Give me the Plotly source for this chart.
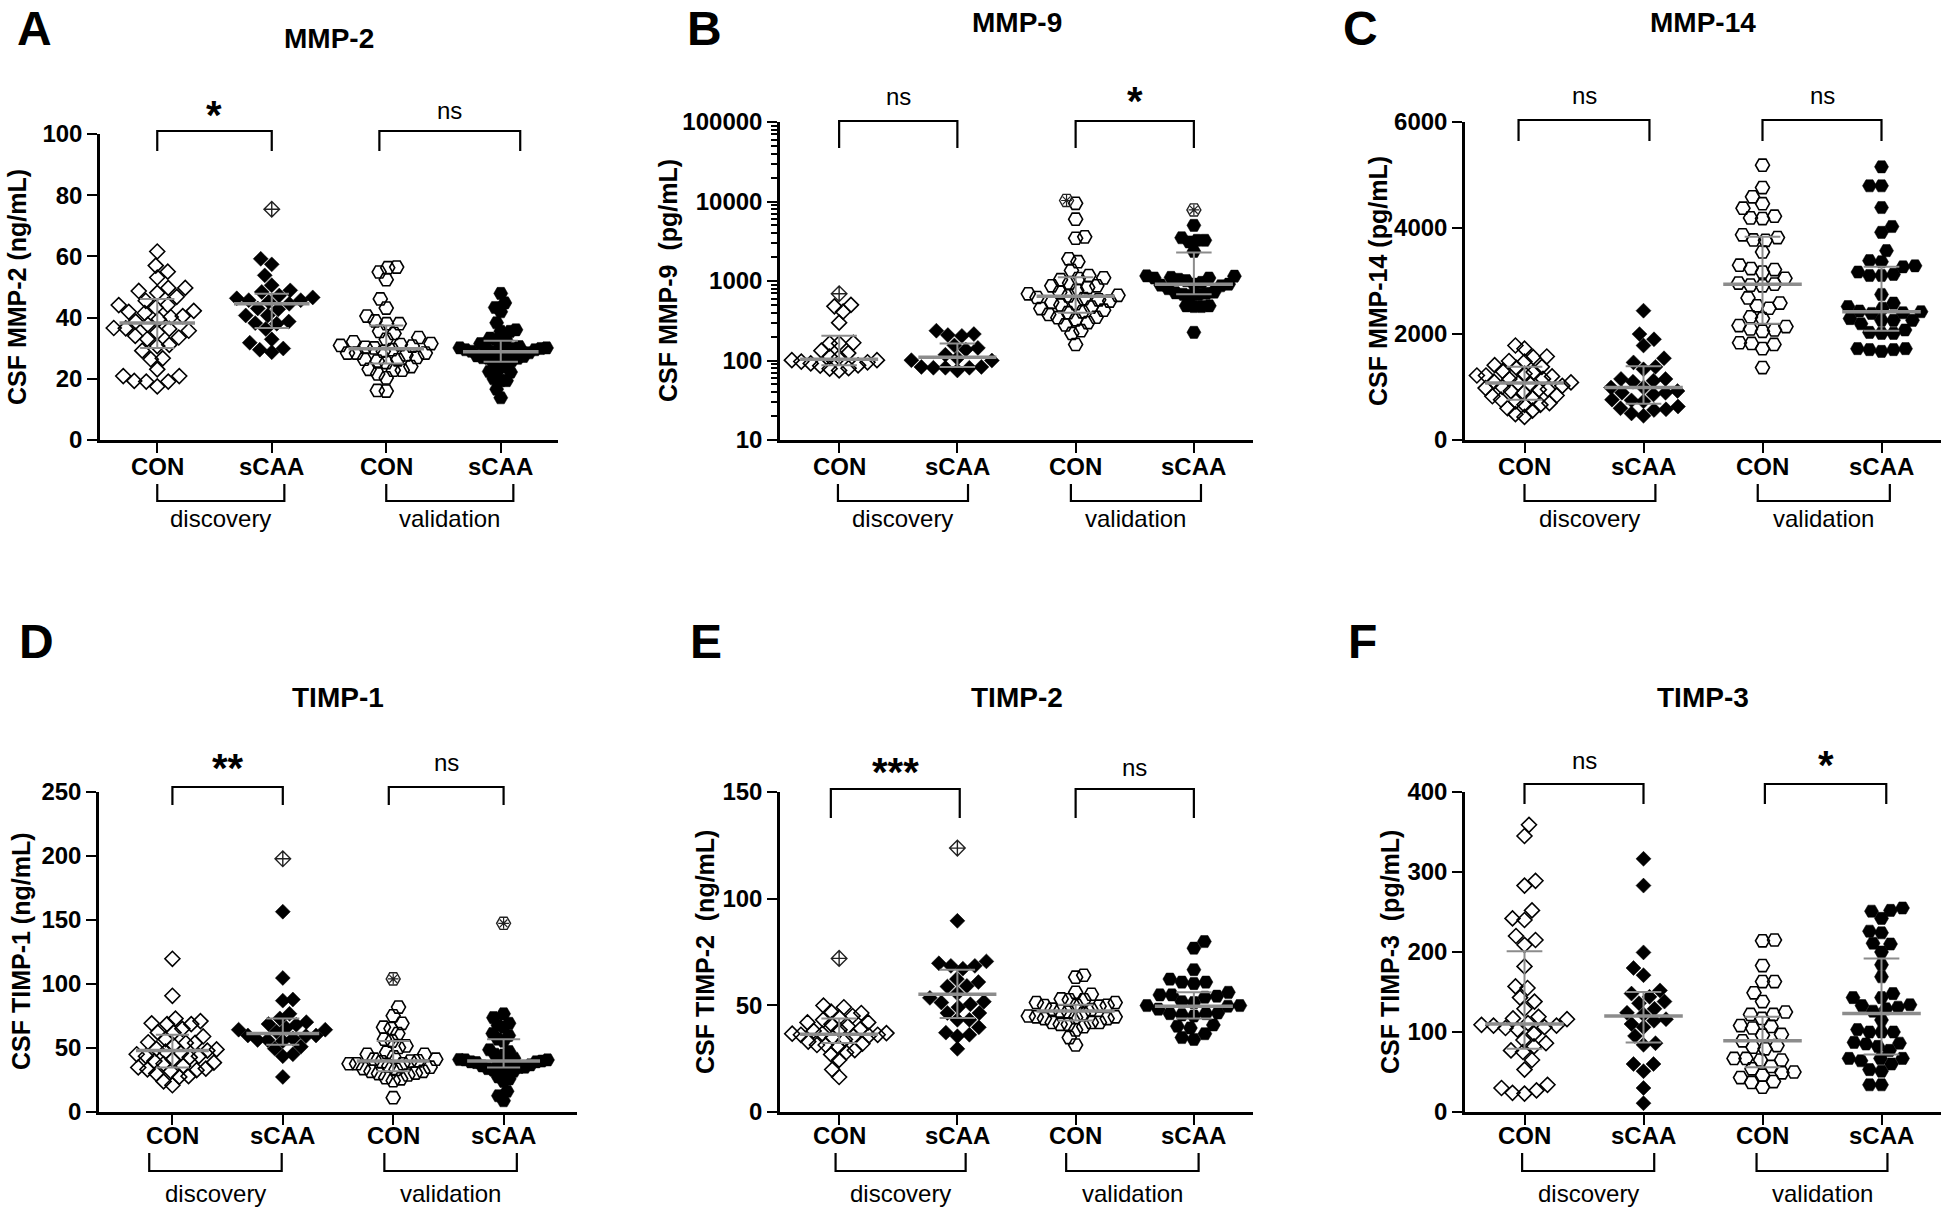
import numpy as np
import plotly.graph_objects as go

W, H = 1944, 1207
FONT = "Liberation Sans, Arial, Helvetica, sans-serif"

categories = ["CON", "sCAA", "CON", "sCAA"]
cohorts = ["discovery", "validation"]

# ---------------- A: MMP-2 (ng/mL) ----------------
mmp2_dis_con = [61.6, 57.0, 55.0, 53.1, 49.7, 49.7, 48.7, 48.1, 46.8, 45.5, 44.1, 44.1, 43.3, 42.2, 41.9, 41.5,
                40.5, 40.2, 39.5, 38.7, 37.7, 36.6, 36.5, 36.3, 35.7, 35.2, 34.0, 33.5, 33.0, 31.1, 30.7, 29.2,
                26.7, 26.4, 23.1, 20.9, 20.9, 19.3, 19.1, 19.1, 17.5]
mmp2_dis_scaa = [59.2, 57.4, 53.8, 50.6, 48.9, 48.4, 47.2, 46.6, 46.3, 45.7, 45.7, 45.2, 44.5, 43.0, 42.7, 40.7,
                 40.7, 38.7, 38.2, 38.0, 36.3, 32.9, 31.8, 29.9, 29.5, 28.7]
mmp2_dis_scaa_out = [75.4]
mmp2_val_con = [56.5, 56.3, 54.9, 52.4, 46.1, 43.1, 40.5, 38.9, 38.0, 38.0, 35.5, 34.8, 33.5, 32.9, 32.1, 31.5,
                31.2, 30.9, 30.7, 30.3, 30.1, 29.5, 29.0, 28.4, 28.4, 28.4, 27.8, 27.0, 26.4, 26.2, 25.8, 25.3,
                24.0, 23.1, 22.8, 22.8, 21.6, 20.3, 16.2, 16.0]
mmp2_val_scaa = [47.9, 44.8, 43.3, 41.9, 38.3, 36.0, 35.5, 35.5, 33.3, 32.9, 32.9, 31.5, 31.0, 30.5, 30.3, 30.1,
                 30.1, 29.9, 29.9, 29.5, 29.5, 29.0, 28.8, 28.5, 28.1, 27.5, 27.3, 26.9, 26.9, 26.7, 26.7, 26.0,
                 25.0, 24.0, 23.1, 22.4, 22.2, 20.0, 19.4, 19.4, 16.6, 13.8]
mmp2_median = [38.2, 44.5, 29.8, 28.8]
mmp2_q1 = [30.1, 36.6, 25.0, 25.6]
mmp2_q3 = [46.1, 47.8, 37.4, 32.4]

# ---------------- B: MMP-9 (pg/mL) ----------------
mmp9_dis_con = [501, 480, 411, 299, 167, 164, 164, 133, 124, 112, 110, 101, 101, 97, 95, 92, 87, 86, 80, 79, 75]
mmp9_dis_con_out = [690]
mmp9_dis_scaa = [237, 215, 209, 204, 155, 144, 137, 118, 107, 101, 100, 83, 83, 81, 81, 81, 75]
mmp9_val_con = [9500, 5990, 3590, 3450, 1900, 1750, 1360, 1170, 1095, 1075, 1040, 943, 870, 870, 828, 760, 720,
                690, 660, 650, 620, 600, 580, 560, 540, 520, 500, 470, 450, 430, 410, 400, 380, 350, 346, 325,
                300, 280, 237, 219, 159]
mmp9_val_con_out = [10300]
mmp9_val_scaa = [5010, 3500, 3250, 3250, 3100, 2360, 1160, 1150, 1110, 1090, 1090, 1050, 1010, 960, 912, 912,
                 887, 870, 800, 725, 710, 700, 680, 680, 660, 487, 487, 477, 477, 226]
mmp9_val_scaa_out = [7830]
mmp9_median = [104, 110, 644, 912]
mmp9_q1 = [87, 83, 400, 680]
mmp9_q3 = [205, 164, 1117, 2290]

# ---------------- C: MMP-14 (pg/mL) ----------------
mmp14_dis_con = [1783, 1724, 1575, 1562, 1490, 1477, 1412, 1380, 1360, 1300, 1282, 1250, 1217, 1217, 1200, 1152,
                 1150, 1100, 1087, 1070, 1050, 1022, 1000, 980, 957, 950, 924, 892, 840, 826, 800, 760, 729, 696,
                 664, 664, 599, 553, 488, 436]
mmp14_dis_scaa = [2440, 1998, 1900, 1783, 1542, 1464, 1380, 1334, 1152, 1152, 1119, 1100, 989, 989, 924, 892, 892,
                  859, 761, 748, 729, 631, 599, 579, 566, 501, 456]
mmp14_val_con = [5186, 4763, 4588, 4458, 4373, 4223, 4191, 4178, 3872, 3820, 3774, 3768, 3547, 3299, 3234, 3215,
                 3169, 3052, 2961, 2941, 2922, 2909, 2681, 2583, 2531, 2486, 2323, 2291, 2160, 2141, 2095, 2076,
                 2050, 1835, 1822, 1803, 1724, 1367]
mmp14_val_scaa = [5154, 4796, 4796, 4386, 4028, 3918, 3573, 3384, 3364, 3286, 3267, 3169, 3124, 3104, 3104, 2746,
                  2583, 2518, 2486, 2434, 2421, 2401, 2388, 2291, 2258, 2258, 2258, 2193, 2076, 2030, 2011, 2011,
                  1724, 1724, 1705, 1705, 1672]
mmp14_median = [1074, 989, 2941, 2421]
mmp14_q1 = [761, 683, 2193, 2063]
mmp14_q3 = [1380, 1393, 3833, 3267]

# ---------------- D: TIMP-1 (ng/mL) ----------------
timp1_dis_con = [119.7, 90.8, 73.0, 71.0, 69.3, 68.7, 68.7, 65.0, 62.2, 62.0, 59.0, 57.0, 54.5, 54.0, 54.0, 52.0,
                 49.5, 48.9, 48.0, 47.2, 46.0, 45.1, 43.6, 43.6, 42.7, 41.0, 39.8, 38.6, 37.7, 36.0, 34.8, 33.9,
                 33.3, 32.7, 31.8, 30.0, 28.0, 27.4, 23.9, 20.9]
timp1_dis_scaa = [156.5, 104.7, 87.9, 87.0, 76.7, 73.1, 70.2, 68.7, 68.1, 65.7, 64.3, 64.3, 62.8, 59.8, 59.8, 59.3,
                  57.5, 56.3, 56.3, 55.4, 51.0, 49.5, 45.1, 43.6, 27.4]
timp1_dis_scaa_out = [197.8]
timp1_val_con = [82.0, 75.2, 69.3, 66.3, 65.2, 61.3, 56.9, 55.4, 51.6, 50.4, 46.6, 45.1, 45.1, 43.0, 41.3, 41.3,
                 40.0, 39.8, 39.2, 37.7, 37.7, 37.7, 36.0, 35.0, 33.9, 33.3, 31.8, 31.8, 30.4, 30.0, 28.9, 26.8,
                 25.9, 24.5, 11.2]
timp1_val_con_out = [104.0]
timp1_val_scaa = [76.7, 73.7, 69.3, 67.8, 66.3, 61.3, 59.8, 56.9, 55.4, 48.6, 47.2, 45.1, 44.5, 42.0, 41.0, 40.7,
                  40.7, 39.8, 39.2, 39.2, 38.6, 38.0, 37.7, 36.8, 36.0, 35.0, 34.8, 33.9, 33.3, 32.7, 31.8, 27.4,
                  25.9, 23.9, 16.2, 12.7, 8.8]
timp1_val_scaa_out = [147.4]
timp1_median = [48.1, 61.3, 39.8, 39.8]
timp1_q1 = [34.8, 52.5, 31.8, 34.8]
timp1_q3 = [60.4, 73.1, 55.4, 56.9]

# ---------------- E: TIMP-2 (ng/mL) ----------------
timp2_dis_con = [49.9, 49.1, 47.0, 46.4, 45.0, 44.3, 43.2, 42.0, 42.0, 41.1, 40.2, 39.0, 38.5, 38.0, 37.0, 36.7,
                 36.7, 36.2, 36.2, 35.8, 35.5, 34.9, 34.0, 33.0, 32.0, 31.4, 31.4, 30.5, 29.0, 27.9, 27.0, 24.4,
                 19.9, 16.4]
timp2_dis_con_out = [72.0]
timp2_dis_scaa = [89.6, 70.6, 69.7, 68.5, 68.5, 67.2, 62.3, 60.9, 59.1, 58.8, 55.6, 53.5, 51.7, 51.3, 50.5, 49.1,
                  46.4, 46.4, 43.2, 43.2, 39.7, 37.2, 36.2, 35.5, 29.6]
timp2_dis_scaa_out = [123.7]
timp2_val_con = [64.1, 63.2, 56.1, 55.2, 53.0, 52.6, 52.6, 51.3, 51.3, 50.0, 49.9, 49.9, 49.6, 48.2, 48.0, 47.3,
                 47.0, 46.0, 45.0, 44.6, 44.6, 44.3, 43.8, 43.8, 42.0, 42.0, 42.0, 41.1, 41.1, 40.0, 38.5, 34.9,
                 31.4]
timp2_val_scaa = [79.9, 76.8, 66.7, 62.3, 60.9, 60.9, 60.2, 56.1, 54.9, 54.9, 54.3, 53.8, 51.7, 51.3, 49.9, 49.9,
                  49.6, 48.2, 46.4, 46.1, 46.1, 45.5, 45.0, 40.8, 40.2, 39.4, 36.7, 34.9, 34.0]
timp2_median = [36.4, 55.2, 47.3, 49.6]
timp2_q1 = [32.3, 44.1, 42.9, 43.8]
timp2_q3 = [43.8, 66.7, 50.3, 56.1]

# ---------------- F: TIMP-3 (pg/mL) ----------------
timp3_dis_con = [359, 345, 289, 283, 252, 242, 240, 220, 215, 209, 182, 157, 155, 143, 138, 129, 119, 117, 116, 111,
                 109, 108, 108, 106, 105, 103, 98, 90, 86, 82, 77, 75, 65, 53, 34, 30, 27, 24, 23]
timp3_dis_scaa = [316.5, 283, 199.5, 180, 171, 152, 148, 144, 138, 136, 129, 124, 122, 116, 114, 110, 106, 95, 86,
                  84, 60, 60, 51, 30, 11]
timp3_val_con = [215, 214, 183, 163, 163, 149, 138, 125, 122, 122, 117, 108, 107, 105, 97, 96, 89, 83, 81, 79, 67,
                 67, 65, 65, 57, 54, 50, 49, 46, 43, 38, 37, 31]
timp3_val_scaa = [255, 252, 251, 242, 226, 224, 211, 210, 200, 184, 169, 148, 143, 143, 134, 133, 131, 129, 126,
                  115, 103, 100, 100, 100, 87, 86, 85, 82, 77, 67, 67, 67, 64, 60, 53, 51, 34, 34]
timp3_median = [110, 120, 89, 123]
timp3_q1 = [79, 87, 56, 72]
timp3_q3 = [201, 150, 119, 192]

# ---------------- panel specifications (layout in px) ----------------
ROW1 = dict(cat_y=466, grp_leg=484, grp_bar=501, grp_text=519, letter_top=True, letter_y=0)
ROW2 = dict(cat_y=1135, grp_leg=1153, grp_bar=1171, grp_text=1193, letter_top=False, letter_y=641)

panels = [
    dict(letter="A", title="MMP-2", ytitle="CSF MMP-2 (ng/mL)",
         groups=[mmp2_dis_con, mmp2_dis_scaa, mmp2_val_con, mmp2_val_scaa],
         outs=[[], mmp2_dis_scaa_out, [], []],
         med=mmp2_median, q1=mmp2_q1, q3=mmp2_q3, yr=(0, 100), dtick=20, log=False,
         sig=["*", "ns"],
         x0=100, x1=558, ytop=134, ybot=440, xr=(-0.5, 3.5),
         letter_x=34, title_y=38, ytitle_x=17,
         sig_spans=[(0, 1), (1.94, 3.17)], sig_top=131, sig_leg=151, sig_text=112,
         grp_spans=[(0, 1.11), (2, 3.11)], row=ROW1),
    dict(letter="B", title="MMP-9", ytitle="CSF MMP-9 \u00a0(pg/mL)",
         groups=[mmp9_dis_con, mmp9_dis_scaa, mmp9_val_con, mmp9_val_scaa],
         outs=[mmp9_dis_con_out, [], mmp9_val_con_out, mmp9_val_scaa_out],
         med=mmp9_median, q1=mmp9_q1, q3=mmp9_q3, yr=(1, 5), dtick=1, log=True,
         sig=["ns", "*"],
         x0=780, x1=1253, ytop=122, ybot=440, xr=(-0.5, 3.5),
         letter_x=704, title_y=22, ytitle_x=668,
         sig_spans=[(0, 1), (2, 3)], sig_top=121, sig_leg=148, sig_text=98,
         grp_spans=[(-0.01, 1.09), (1.96, 3.06)], row=ROW1),
    dict(letter="C", title="MMP-14", ytitle="CSF MMP-14 (pg/mL)",
         groups=[mmp14_dis_con, mmp14_dis_scaa, mmp14_val_con, mmp14_val_scaa],
         outs=[[], [], [], []],
         med=mmp14_median, q1=mmp14_q1, q3=mmp14_q3, yr=(0, 6000), dtick=2000, log=False,
         sig=["ns", "ns"],
         x0=1465, x1=1941, ytop=122, ybot=440, xr=(-0.5, 3.5),
         letter_x=1360, title_y=22, ytitle_x=1378,
         sig_spans=[(-0.05, 1.05), (2, 3)], sig_top=120, sig_leg=141, sig_text=97,
         grp_spans=[(0, 1.1), (1.96, 3.07)], row=ROW1),
    dict(letter="D", title="TIMP-1", ytitle="CSF TIMP-1 (ng/mL)",
         groups=[timp1_dis_con, timp1_dis_scaa, timp1_val_con, timp1_val_scaa],
         outs=[[], timp1_dis_scaa_out, timp1_val_con_out, timp1_val_scaa_out],
         med=timp1_median, q1=timp1_q1, q3=timp1_q3, yr=(0, 250), dtick=50, log=False,
         sig=["**", "ns"],
         x0=99, x1=577, ytop=792, ybot=1112, xr=(-0.665, 3.665),
         letter_x=36, title_y=697, ytitle_x=21,
         sig_spans=[(0, 1), (1.96, 3)], sig_top=787, sig_leg=805, sig_text=765,
         grp_spans=[(-0.21, 0.99), (1.92, 3.12)], row=ROW2),
    dict(letter="E", title="TIMP-2", ytitle="CSF TIMP-2 \u00a0(ng/mL)",
         groups=[timp2_dis_con, timp2_dis_scaa, timp2_val_con, timp2_val_scaa],
         outs=[timp2_dis_con_out, timp2_dis_scaa_out, [], []],
         med=timp2_median, q1=timp2_q1, q3=timp2_q3, yr=(0, 150), dtick=50, log=False,
         sig=["***", "ns"],
         x0=780, x1=1253, ytop=792, ybot=1112, xr=(-0.5, 3.5),
         letter_x=706, title_y=697, ytitle_x=705,
         sig_spans=[(-0.07, 1.02), (2, 3)], sig_top=789, sig_leg=818, sig_text=769,
         grp_spans=[(-0.03, 1.07), (1.92, 3.04)], row=ROW2),
    dict(letter="F", title="TIMP-3", ytitle="CSF TIMP-3 \u00a0(pg/mL)",
         groups=[timp3_dis_con, timp3_dis_scaa, timp3_val_con, timp3_val_scaa],
         outs=[[], [], [], []],
         med=timp3_median, q1=timp3_q1, q3=timp3_q3, yr=(0, 400), dtick=100, log=False,
         sig=["ns", "*"],
         x0=1465, x1=1941, ytop=792, ybot=1112, xr=(-0.5, 3.5),
         letter_x=1362, title_y=697, ytitle_x=1390,
         sig_spans=[(0, 1), (2.02, 3.04)], sig_top=784, sig_leg=804, sig_text=762,
         grp_spans=[(-0.02, 1.09), (1.95, 3.05)], row=ROW2),
]

MARK = [
    dict(symbol="diamond-open", size=11.5, color="black", line=dict(width=1.6, color="black")),
    dict(symbol="diamond", size=11.5, color="black", line=dict(width=0.5, color="black")),
    dict(symbol="hexagon2-open", size=14, color="black", line=dict(width=1.6, color="black")),
    dict(symbol="hexagon2", size=14, color="black", line=dict(width=0.5, color="black")),
]
GRAY = "#8c8c8c"


def to_px(vals, p):
    v = np.asarray(vals, dtype=float)
    y0, y1 = p["yr"]
    if p["log"]:
        v = np.log10(v)
    return (v - y0) / (y1 - y0) * (p["ybot"] - p["ytop"])


def swarm(ypx, d=12.0, step=0.5):
    n = len(ypx)
    order = np.argsort(ypx)
    px, py = [], []
    offs = np.zeros(n)
    for rank, i in enumerate(order):
        y = ypx[i]
        k = 0
        found = None
        while found is None:
            if k == 0:
                cands = [0.0]
            else:
                cands = [k * step, -k * step] if rank % 2 == 0 else [-k * step, k * step]
            for x in cands:
                ok = True
                for a, b in zip(px, py):
                    if (x - a) ** 2 + (y - b) ** 2 < d * d:
                        ok = False
                        break
                if ok:
                    found = x
                    break
            k += 1
        offs[i] = found
        px.append(found)
        py.append(y)
    return offs


def xpaper(p, x):
    r0, r1 = p["xr"]
    return (p["x0"] + (x - r0) / (r1 - r0) * (p["x1"] - p["x0"])) / W


def ypaper(ypx):
    return 1 - ypx / H


fig = go.Figure()
shapes, annotations = [], []
layout_axes = {}

for idx, p in enumerate(panels, start=1):
    xname = "x" if idx == 1 else f"x{idx}"
    yname = "y" if idx == 1 else f"y{idx}"
    cat_px = (p["x1"] - p["x0"]) / (p["xr"][1] - p["xr"][0])
    row = p["row"]

    for g in range(4):
        vals = list(p["groups"][g])
        outs = list(p["outs"][g])
        allv = vals + outs
        ypx = to_px(allv, p)
        offs = swarm(ypx, d=12.0)
        maxw = 0.40 * cat_px
        m = np.abs(offs).max() if len(offs) else 0
        if m > maxw:
            offs = offs * (maxw / m)
        xs = g + offs / cat_px
        nreg = len(vals)
        fig.add_trace(go.Scatter(x=xs[:nreg], y=vals, mode="markers", marker=MARK[g],
                                 xaxis=xname, yaxis=yname, showlegend=False, hoverinfo="y"))
        if outs:
            if g < 2:
                fig.add_trace(go.Scatter(x=xs[nreg:], y=outs, mode="markers",
                                         marker=dict(symbol="diamond-cross-open", size=12, color="#222",
                                                     line=dict(width=1.4, color="#222")),
                                         xaxis=xname, yaxis=yname, showlegend=False, hoverinfo="y"))
            else:
                fig.add_trace(go.Scatter(x=xs[nreg:], y=outs, mode="markers",
                                         marker=dict(symbol="hexagon2-open", size=14, color="#222",
                                                     line=dict(width=1.4, color="#222")),
                                         xaxis=xname, yaxis=yname, showlegend=False, hoverinfo="y"))
                fig.add_trace(go.Scatter(x=xs[nreg:], y=outs, mode="markers",
                                         marker=dict(symbol="asterisk-open", size=9, color="#222",
                                                     line=dict(width=1.2, color="#222")),
                                         xaxis=xname, yaxis=yname, showlegend=False, hoverinfo="skip"))

    # median lines
    mx, my = [], []
    for g in range(4):
        mx += [g - 0.33, g + 0.33, None]
        my += [p["med"][g], p["med"][g], None]
    fig.add_trace(go.Scatter(x=mx, y=my, mode="lines", line=dict(color=GRAY, width=3.5),
                             xaxis=xname, yaxis=yname, showlegend=False, hoverinfo="skip"))
    # IQR bars
    ex, ey = [], []
    for g in range(4):
        lo, hi = p["q1"][g], p["q3"][g]
        ex += [g, g, None, g - 0.15, g + 0.15, None, g - 0.15, g + 0.15, None]
        ey += [lo, hi, None, lo, lo, None, hi, hi, None]
    fig.add_trace(go.Scatter(x=ex, y=ey, mode="lines", line=dict(color=GRAY, width=2),
                             xaxis=xname, yaxis=yname, showlegend=False, hoverinfo="skip"))

    tickfont = dict(family=FONT, size=24, color="black", weight="bold")
    xa = dict(domain=[p["x0"] / W, p["x1"] / W], range=list(p["xr"]), tickmode="array",
              tickvals=[0, 1, 2, 3], ticktext=categories, showticklabels=False,
              ticks="outside", ticklen=10, tickwidth=2,
              tickcolor="black", showline=True, linewidth=2.5, linecolor="black", showgrid=False,
              zeroline=False, anchor=yname, fixedrange=True, automargin=False)
    ya = dict(domain=[1 - p["ybot"] / H, 1 - p["ytop"] / H], range=list(p["yr"]), ticks="outside",
              ticklen=10, tickwidth=2, tickcolor="black", showline=True, linewidth=2.5, linecolor="black",
              showgrid=False, zeroline=False, tickfont=tickfont, anchor=xname, fixedrange=True,
              automargin=False)
    if p["log"]:
        ya.update(type="log", dtick=1, tickformat="d",
                  minor=dict(ticks="outside", ticklen=6, tickwidth=1.5, tickcolor="black", dtick="D1",
                             showgrid=False))
    else:
        ya.update(dtick=p["dtick"], tick0=0)
    layout_axes["xaxis" if idx == 1 else f"xaxis{idx}"] = xa
    layout_axes["yaxis" if idx == 1 else f"yaxis{idx}"] = ya

    # category labels under the x axis
    for g, lab in enumerate(categories):
        annotations.append(dict(x=xpaper(p, g), y=ypaper(row["cat_y"]), xref="paper", yref="paper",
                                text=lab, showarrow=False, xanchor="center", yanchor="middle",
                                font=dict(family=FONT, size=24, color="black", weight="bold")))

    # significance brackets
    for (a, b), txt in zip(p["sig_spans"], p["sig"]):
        xa_p, xb_p = xpaper(p, a), xpaper(p, b)
        yt, yl = ypaper(p["sig_top"]), ypaper(p["sig_leg"])
        shapes.append(dict(type="path", xref="paper", yref="paper",
                           path=f"M{xa_p},{yl} L{xa_p},{yt} L{xb_p},{yt} L{xb_p},{yl}",
                           line=dict(color="black", width=2.2)))
        star = txt.startswith("*")
        annotations.append(dict(x=(xa_p + xb_p) / 2, y=ypaper(p["sig_text"] + (3 if star else -2)),
                                xref="paper", yref="paper", text=txt, showarrow=False,
                                xanchor="center", yanchor="middle",
                                font=dict(family=FONT, size=40 if star else 24, color="black",
                                          weight="bold" if star else "normal")))
    # cohort brackets
    for (a, b), txt in zip(p["grp_spans"], cohorts):
        xa_p, xb_p = xpaper(p, a), xpaper(p, b)
        yt, yl = ypaper(row["grp_leg"]), ypaper(row["grp_bar"])
        shapes.append(dict(type="path", xref="paper", yref="paper",
                           path=f"M{xa_p},{yt} L{xa_p},{yl} L{xb_p},{yl} L{xb_p},{yt}",
                           line=dict(color="black", width=2.2)))
        annotations.append(dict(x=(xa_p + xb_p) / 2, y=ypaper(row["grp_text"]), xref="paper", yref="paper",
                                text=txt, showarrow=False, xanchor="center", yanchor="middle",
                                font=dict(family=FONT, size=24, color="black")))
    # panel letter, title, y-title
    if row["letter_top"]:
        annotations.append(dict(x=p["letter_x"] / W, y=1.0, xref="paper", yref="paper",
                                text=p["letter"], showarrow=False, xanchor="center", yanchor="top",
                                font=dict(family=FONT, size=48, color="black", weight="bold")))
    else:
        annotations.append(dict(x=p["letter_x"] / W, y=ypaper(row["letter_y"]), xref="paper", yref="paper",
                                text=p["letter"], showarrow=False, xanchor="center", yanchor="middle",
                                font=dict(family=FONT, size=48, color="black", weight="bold")))
    annotations.append(dict(x=(p["x0"] + p["x1"]) / 2 / W, y=ypaper(p["title_y"]), xref="paper",
                            yref="paper", text=p["title"], showarrow=False, xanchor="center",
                            yanchor="middle", font=dict(family=FONT, size=28, color="black", weight="bold")))
    annotations.append(dict(x=p["ytitle_x"] / W, y=ypaper((p["ytop"] + p["ybot"]) / 2), xref="paper",
                            yref="paper", text=p["ytitle"], showarrow=False, textangle=-90,
                            xanchor="center", yanchor="middle",
                            font=dict(family=FONT, size=25, color="black", weight="bold")))

fig.update_layout(width=W, height=H, margin=dict(l=0, r=0, t=0, b=0, pad=0, autoexpand=False),
                  paper_bgcolor="white", plot_bgcolor="white", showlegend=False,
                  shapes=shapes, annotations=annotations, **layout_axes)

fig.write_html("out.html", config={"displayModeBar": False},
               post_script="document.body.style.margin='0';")
